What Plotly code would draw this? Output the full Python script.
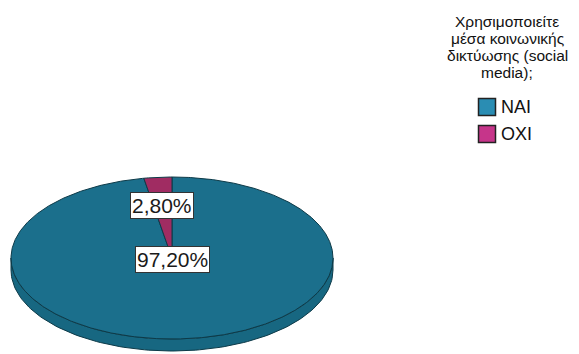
import numpy as np
import plotly.graph_objects as go

# Survey answers and their shares (%)
categories = ["NAI", "OXI"]
values = [97.2, 2.8]
face_colors = ["#1b6f8c", "#a02c62"]
side_colors = ["#176781", "#84214f"]
legend_colors = ["#2a8db3", "#c6358a"]
title_lines = ["Χρησιμοποιείτε", "μέσα κοινωνικής", "δικτύωσης (social", "media);"]

W, H = 579, 354
# Ellipse geometry of the tilted pie (pixel space)
cx, cy, rx, ry, depth = 172, 258, 161, 81, 12
start_deg = 90.0  # first slice of the list drawn last, ending at the top


def pt(theta_deg, dy=0.0):
    t = np.radians(theta_deg)
    return cx + rx * np.cos(t), cy - ry * np.sin(t) + dy


fig = go.Figure()

# slice angle ranges: OXI from 90° counter-clockwise, NAI takes the rest
total = sum(values)
spans = {}
a = start_deg
for cat, v in zip(categories[::-1], values[::-1]):
    sweep = 360.0 * v / total
    spans[cat] = (a, a + sweep)
    a += sweep

# side wall (front half of the pie, 180°..360°)
for i, cat in enumerate(categories):
    a0, a1 = spans[cat]
    for k in (0, 360):
        lo, hi = max(a0, 180 + k), min(a1, 360 + k)
        if hi <= lo:
            continue
        th = np.linspace(lo, hi, 120)
        xt, yt = pt(th)
        xb, yb = pt(th[::-1], depth)
        fig.add_trace(go.Scatter(
            x=np.concatenate([xt, xb, xt[:1]]),
            y=np.concatenate([yt, yb, yt[:1]]),
            mode="lines", fill="toself", fillcolor=side_colors[i],
            line=dict(color="#0d3a48", width=1), hoverinfo="skip", showlegend=False))

# top faces
for i, cat in enumerate(categories):
    a0, a1 = spans[cat]
    th = np.linspace(a0, a1, max(8, int((a1 - a0) * 2)))
    xs, ys = pt(th)
    fig.add_trace(go.Scatter(
        x=np.concatenate([[cx], xs, [cx]]),
        y=np.concatenate([[cy], ys, [cy]]),
        mode="lines", fill="toself", fillcolor=face_colors[i],
        line=dict(color="#0d3a48", width=1), name=cat,
        hoverinfo="name", showlegend=False))

# percentage labels
label_pos = {"OXI": (162, 205), "NAI": (172, 259)}
for cat, v in zip(categories, values):
    x, y = label_pos[cat]
    fig.add_annotation(
        x=x, y=y, xref="x", yref="y", showarrow=False,
        text=f"{v:.2f}%".replace(".", ","),
        font=dict(family="Liberation Sans, Arial", size=21, color="#1a1a1a"),
        bgcolor="white", bordercolor="#333333", borderwidth=1, borderpad=1)

# legend title
for k, line in enumerate(title_lines):
    fig.add_annotation(
        x=507, y=21 + 17.3 * k, xref="x", yref="y", showarrow=False,
        text=line, xanchor="center", yanchor="middle",
        font=dict(family="Liberation Sans, Arial", size=15.5, color="#111111"))

# legend entries
for k, cat in enumerate(categories):
    yk = 107 + 27 * k
    fig.add_trace(go.Scatter(
        x=[487], y=[yk], mode="markers",
        marker=dict(symbol="square", size=17, color=legend_colors[k],
                    line=dict(color="#222222", width=1.5)),
        hoverinfo="skip", showlegend=False))
    fig.add_annotation(
        x=499, y=yk, xref="x", yref="y", showarrow=False, text=cat,
        xanchor="left", yanchor="middle",
        font=dict(family="Liberation Sans, Arial", size=18, color="#111111"))

fig.update_layout(
    width=W, height=H, margin=dict(l=0, r=0, t=0, b=0),
    paper_bgcolor="white", plot_bgcolor="white",
    xaxis=dict(range=[0, W], visible=False, fixedrange=True),
    yaxis=dict(range=[H, 0], visible=False, fixedrange=True),
)

fig.write_html("out.html")
